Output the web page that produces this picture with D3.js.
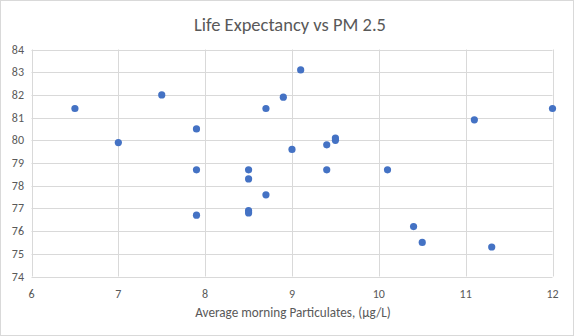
<!DOCTYPE html>
<html><head><meta charset="utf-8">
<script src="https://cdn.jsdelivr.net/npm/d3@7"></script>
<style>body{margin:0;background:#fff}svg{display:block}</style>
</head><body>
<svg id="c" width="574" height="336"></svg>
<script>
const pm25 = [6.5, 7.0, 7.5, 7.9, 7.9, 7.9, 8.5, 8.5, 8.5, 8.5, 8.7, 8.7, 8.9, 9.0, 9.1, 9.4, 9.4, 9.5, 9.5, 10.1, 10.4, 10.5, 11.1, 11.3, 12.0];
const lifeExp = [81.4, 79.9, 82.0, 80.5, 78.7, 76.7, 78.7, 78.3, 76.9, 76.8, 81.4, 77.6, 81.9, 79.6, 83.1, 79.8, 78.7, 80.1, 80.0, 78.7, 76.2, 75.5, 80.9, 75.3, 81.4];
const xTicks = [6, 7, 8, 9, 10, 11, 12];
const yTicks = [74, 75, 76, 77, 78, 79, 80, 81, 82, 83, 84];
const title = "Life Expectancy vs PM 2.5";
const xTitle = "Average morning Particulates, (\u00b5g/L)";

const svg = d3.select("#c");
const W = 574, H = 336;
const font = "Carlito, Lato, 'Open Sans', sans-serif";
svg.append("rect").attr("x",0.5).attr("y",0.5).attr("width",W-1).attr("height",H-1)
  .attr("fill","#fff").attr("stroke","#d9d9d9");

const x = d3.scaleLinear().domain([6,12]).range([31.5,552.5]);
const y = d3.scaleLinear().domain([74,84]).range([276.5,49.5]);

const g = svg.append("g");
g.append("g").selectAll("line").data(xTicks).join("line")
  .attr("x1",d=>Math.round(x(d))+0.5).attr("x2",d=>Math.round(x(d))+0.5)
  .attr("y1",y(84)).attr("y2",y(74)).attr("stroke","#d9d9d9");
g.append("g").selectAll("line").data(yTicks).join("line")
  .attr("y1",d=>Math.round(y(d))+0.5).attr("y2",d=>Math.round(y(d))+0.5)
  .attr("x1",x(6)).attr("x2",x(12)).attr("stroke","#d9d9d9");

g.append("g").selectAll("text").data(xTicks).join("text")
  .attr("x",d=>x(d)).attr("y",298).attr("text-anchor","middle")
  .attr("font-family",font).attr("font-size",12).attr("fill","#595959").text(d=>d);
g.append("g").selectAll("text").data(yTicks).join("text")
  .attr("x",24).attr("y",d=>y(d)+4).attr("text-anchor","end")
  .attr("font-family",font).attr("font-size",12).attr("fill","#595959").text(d=>d);

g.append("g").selectAll("circle").data(pm25.map((v,i)=>[v,lifeExp[i]])).join("circle")
  .attr("cx",d=>x(d[0])).attr("cy",d=>y(d[1])).attr("r",3.6).attr("fill","#4472c4");

svg.append("text").attr("x",290).attr("y",31).attr("text-anchor","middle")
  .attr("font-family",font).attr("font-size",18.5).attr("fill","#595959").text(title);
svg.append("text").attr("x",293).attr("y",317).attr("text-anchor","middle")
  .attr("font-family",font).attr("font-size",13.2).attr("fill","#595959").text(xTitle);
</script>
</body></html>
